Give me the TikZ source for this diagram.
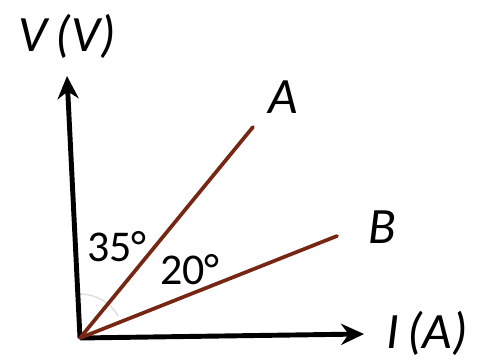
\documentclass[tikz,border=0pt]{standalone}
\usepackage{fontspec}
\setmainfont{Carlito}
\usepackage{tikz}
\usetikzlibrary{arrows.meta,positioning,calc}
\definecolor{wire}{RGB}{118,38,18}
\tikzset{
  >={Stealth[length=13pt,width=12pt]},
}

\begin{document}
\begin{tikzpicture}[
  x=0.02cm,y=0.02cm,
  axis/.style={->,line width=2.8pt,black},
  res/.style={line width=2.1pt,wire,line cap=round},
  lab/.style={font=\fontsize{29}{32}\selectfont\itshape,inner sep=0pt},
  ang/.style={font=\fontsize{25}{28}\selectfont,inner sep=0pt}
]
\useasboundingbox (0,0) rectangle (480,361);

\coordinate (O) at (80,23);
\coordinate (Vtip) at (67,285);
\coordinate (Itip) at (364,27);
\coordinate (Aend) at (253,234);
\coordinate (Bend) at (337,125);

% faint angle mark
\draw[gray!25,line width=0.8pt] (O) ++(92:44) arc (92:30:44);

\draw[axis] (O) -- (Vtip);
\draw[axis] (O) -- (Itip);

\draw[res] (O) -- (Aend);
\draw[res] (O) -- (Bend);

\node[lab] (vlab) at (67,325) {V\,(V)};
\node[lab] (ilab) at (427,28) {I\,(A)};
\node[lab] (alab) at (283,264) {A};
\node[lab] (blab) at (382,134) {B};

\node[ang] (a35) at (117,114) {35°};
\node[ang] (a20) at (190,91) {20°};

\end{tikzpicture}
\end{document}
